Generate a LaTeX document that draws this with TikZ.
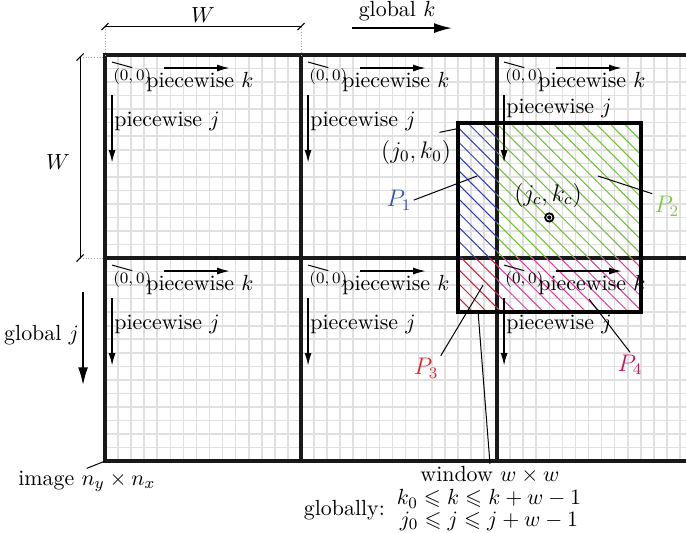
\documentclass[tikz,border=0pt,11pt]{standalone}
\usepackage{amssymb}
\usetikzlibrary{arrows.meta}
\usetikzlibrary{patterns.meta}
\usetikzlibrary{positioning}

\definecolor{pone}{RGB}{45,60,170}
\definecolor{ponetext}{RGB}{55,80,190}
\definecolor{ptwo}{RGB}{110,190,50}
\definecolor{ptwotext}{RGB}{120,200,70}
\definecolor{pthree}{RGB}{215,25,55}
\definecolor{pthreetext}{RGB}{230,35,35}
\definecolor{pfour}{RGB}{220,60,160}
\definecolor{pfourtext}{RGB}{200,20,90}

\tikzset{
  blockline/.style={black!90,line width=1.6pt,line cap=rect},
  cellline/.style={black!12,line width=0.8pt},
  winline/.style={black,line width=2pt},
  pinline/.style={black,line width=0.5pt},
  dimline/.style={black,line width=0.5pt},
  extline/.style={black!35,line width=0.4pt,densely dotted},
  localarrow/.style={-{Latex[length=6.5pt,width=3.5pt]},line width=0.9pt},
  globalarrow/.style={-{Latex[length=9pt,width=5pt]},line width=1pt},
  hatch/.style={pattern={Lines[angle=-45,distance=5pt,line width=0.5pt]},pattern color=#1},
  plabel/.style={font=\large,inner sep=1pt},
}

\begin{document}
\begin{tikzpicture}[x=6.533pt,y=-6.767pt]
\useasboundingbox (-8.036,-4.065) rectangle (44.46,35.25);

% pixels
\foreach \b in {0,15,30} \foreach \i in {1,...,14} \draw[cellline] (\b+\i,0) -- (\b+\i,30);
\foreach \b in {0,15} \foreach \j in {1,...,14} \draw[cellline] (0,\b+\j) -- (44.46,\b+\j);
% blocks of the image
\foreach \i in {0,15,30} \draw[blockline] (\i,0) -- (\i,30);
\foreach \j in {0,15,30} \draw[blockline] (0,\j) -- (44.46,\j);

% parts of the window
\fill[hatch=pone] (27,5) rectangle (30,15);
\fill[hatch=ptwo] (30,5) rectangle (41,15);
\fill[hatch=pthree] (27,15) rectangle (30,19);
\fill[hatch=pfour] (30,15) rectangle (41,19);
\draw[winline] (27,5) rectangle (41,19);

% local axes in each block
\foreach \bx/\by/\jy in {0/0/5.29,15/0/5.29,30/0/4.29,0/15/20.29,15/15/20.29,30/15/20.29} {
    \node[font=\scriptsize,anchor=base west,inner sep=0pt] (orig) at (\bx+0.61,\by+1.85) {$(0,0)$};
    \coordinate (bcorner) at (\bx+0.54,\by+0.52);
    \draw[pinline] (bcorner) -- (orig.north);
    \draw[localarrow] (\bx+4.5,\by+0.96) -- (\bx+9.57,\by+0.96);
    \node[anchor=base west,inner sep=0pt] (pk) at (\bx+3.14,\by+2.37) {piecewise $k$};
    \draw[localarrow] (\bx+0.54,\by+2.96) -- (\bx+0.54,\by+7.98);
    \node[anchor=base west,inner sep=0pt] (pj) at (\bx+0.69,\jy) {piecewise $j$};
  }

% block size
\draw[extline] (0,-2.1) -- (0,0);
\draw[extline] (15,-2.1) -- (15,0);
\draw[dimline] (0,-2.1) -- (15,-2.1);
\draw[dimline] (-0.27,-1.84) -- (0.27,-2.36);
\draw[dimline] (14.73,-1.84) -- (15.27,-2.36);
\node[anchor=base] (wtop) at (7.5,-2.37) {$W$};
\draw[extline] (-1.91,0.15) -- (0,0.15);
\draw[extline] (-1.91,15) -- (0,15);
\draw[dimline] (-1.91,0.15) -- (-1.91,15);
\draw[dimline] (-2.18,0.41) -- (-1.64,-0.11);
\draw[dimline] (-2.18,15.26) -- (-1.64,14.74);
\node (wleft) at (-3.6,7.9) {$W$};

% global axes
\node[anchor=base] (glk) at (22.35,-2.81) {global $k$};
\draw[globalarrow] (18.9,-1.99) -- (26.56,-1.99);
\node[anchor=base] (glj) at (-4.85,21.06) {global $j$};
\draw[globalarrow] (-1.68,17.5) -- (-1.68,24.4);

% window corner and centre
\node[font=\large] (jk0) at (23.8,7.17) {$(j_0,k_0)$};
\coordinate (wcorner) at (27.17,5.4);
\draw[pinline] (jk0.40) -- (wcorner);
\node[circle,draw,line width=0.9pt,inner sep=0pt,minimum size=4.2pt] (cdot) at (34,12) {};
\fill (cdot.center) circle (1pt);
\node[font=\large] (jckc) at (33.9,10.35) {$(j_c,k_c)$};

% parts
\node[plabel,text=ponetext] (p1) at (22.5,10.72) {$P_1$};
\coordinate (p1in) at (28.47,8.94);
\draw[pinline] (p1.east) -- (p1in);
\node[plabel,text=ptwotext] (p2) at (43.0,11.16) {$P_2$};
\coordinate (p2in) at (37.73,8.94);
\draw[pinline] (p2.north west) -- (p2in);
\node[plabel,text=pthreetext] (p3) at (24.57,23.13) {$P_3$};
\coordinate (p3in) at (28.93,17.0);
\draw[pinline] (p3.north east) -- (p3in);
\node[plabel,text=pfourtext] (p4) at (40.18,22.88) {$P_4$};
\coordinate (p4in) at (37.04,18.03);
\draw[pinline] (p4.north) -- (p4in);

% image and window
\node[anchor=base,inner sep=1pt] (img) at (-1.4,31.78) {image $n_y\times n_x$};
\coordinate (imgcorner) at (0,30);
\draw[pinline] (img.north) -- (imgcorner);
\node[anchor=base,inner sep=1pt] (win) at (29.46,31.5) {window $w\times w$};
\coordinate (wbot) at (28.55,19);
\draw[pinline] (win.north) -- (wbot);
\node[inner sep=2pt] (bounds) at (29.39,33.62) {$\begin{array}{@{}c@{}}
  k_0\leqslant k\leqslant k+w-1\\[-3pt]
  j_0\leqslant j\leqslant j+w-1
\end{array}$};
\node[left=0pt of bounds] (glob) {globally:};

\end{tikzpicture}
\end{document}
